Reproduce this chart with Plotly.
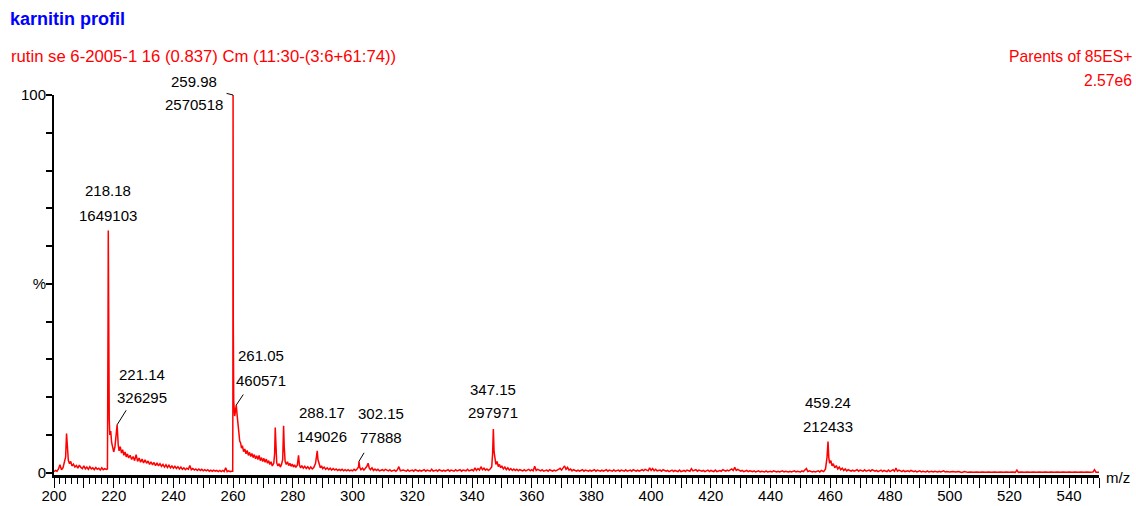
import plotly.graph_objects as go

# ---------------- data (relative intensity, % of base peak) ----------------
mz_a = [200.0, 200.5, 201.0, 201.5, 202.0, 202.5, 203.0, 203.5, 203.9, 204.2, 204.5, 204.8,
        205.2, 205.6, 206.0, 206.5, 207.0, 207.5, 208.0, 208.5, 209.0, 209.5, 210.0, 210.5,
        211.0, 211.5, 212.0, 212.5, 213.0, 213.5, 214.0, 214.5, 215.0, 215.5, 216.0, 216.5,
        217.0, 217.5, 217.9]
pct_a = [0.3, 0.6, 0.4, 1.0, 2.1, 0.8, 1.3, 2.9, 4.2, 10.4, 5.1, 3.3,
         2.4, 3.0, 1.8, 2.3, 1.5, 1.9, 1.2, 2.0, 1.4, 1.1, 1.8, 1.0,
         1.5, 0.9, 1.6, 1.0, 1.3, 0.8, 1.4, 0.9, 1.2, 0.7, 1.3, 0.8,
         1.1, 0.9, 1.0]

mz_b = [218.0, 218.1, 218.18, 218.3, 218.5, 218.7, 219.0, 219.3, 219.6, 220.0, 220.4, 220.8,
        221.14, 221.5, 221.8, 222.2, 222.6, 223.0, 223.4, 223.8, 224.2, 224.6, 225.0, 225.5,
        226.0, 226.5, 227.0, 227.5, 228.0, 228.5, 229.0, 229.5, 230.0, 230.5, 231.0, 231.5,
        232.0, 232.5, 233.0, 233.5, 234.0, 234.5, 235.0, 235.5, 236.0, 236.5, 237.0, 237.5,
        238.0, 238.5, 239.0, 239.5, 240.0, 240.5, 241.0, 241.5, 242.0, 242.5, 243.0, 243.5,
        244.0, 244.5, 245.0, 245.5, 246.0, 246.5, 247.0, 247.5, 248.0, 248.5, 249.0, 249.5,
        250.0, 250.5, 251.0, 251.5, 252.0, 252.5, 253.0, 253.5, 254.0, 254.5, 255.0, 255.5,
        256.0, 256.5, 257.0, 257.5, 258.0, 258.5, 259.0, 259.5, 259.85]
pct_b = [12.0, 40.0, 64.15, 30.0, 14.0, 10.0, 11.0, 8.0, 6.5, 5.5, 6.8, 9.5,
         12.69, 7.5, 5.8, 6.9, 5.2, 6.1, 4.6, 5.5, 4.2, 5.0, 3.9, 4.6,
         3.5, 4.3, 3.2, 4.8, 3.0, 3.9, 2.8, 3.6, 2.6, 3.4, 2.5, 3.1,
         2.2, 2.9, 2.1, 2.7, 1.9, 2.6, 1.8, 2.4, 1.7, 2.2, 1.5, 2.1,
         1.4, 2.0, 1.3, 1.8, 1.2, 1.7, 1.1, 1.6, 1.0, 1.5, 0.9, 1.3,
         0.8, 1.2, 0.9, 1.9, 0.8, 1.1, 0.7, 1.0, 0.6, 1.0, 0.6, 0.9,
         0.5, 0.8, 0.5, 0.8, 0.4, 0.7, 0.4, 0.7, 0.4, 0.6, 0.3, 0.6,
         0.3, 0.6, 0.3, 1.3, 0.3, 0.5, 0.3, 0.4, 0.4]

mz_c = [259.92, 259.98, 260.05, 260.2, 260.5, 260.8, 261.05, 261.3, 261.6, 261.9, 262.2, 262.5,
        262.8, 263.1, 263.5, 263.9, 264.3, 264.7, 265.1, 265.5, 265.9, 266.3, 266.7, 267.1,
        267.5, 267.9, 268.3, 268.7, 269.1, 269.5, 269.9, 270.3, 270.7, 271.1, 271.5, 271.9,
        272.3, 272.7, 273.1, 273.6, 273.9, 274.1, 274.3, 274.6, 275.0, 275.4, 275.8, 276.2,
        276.6, 276.9, 277.1, 277.4, 277.8, 278.2, 278.6, 279.0, 279.4, 279.8, 280.2, 280.6,
        281.0, 281.5, 281.9, 282.2, 282.6, 283.0, 283.5, 284.0, 284.5, 285.0, 285.5, 286.0,
        286.5, 287.0, 287.6, 288.0, 288.17, 288.4, 288.8, 289.2, 289.6, 290.0, 290.5, 291.0,
        291.5, 292.0, 292.5, 293.0, 293.5, 294.0, 294.5, 295.0, 295.5, 296.0, 296.5, 297.0,
        297.5, 298.0, 298.5, 299.0, 299.5]
pct_c = [20.0, 100.0, 40.0, 19.0, 15.0, 16.5, 17.92, 15.5, 13.2, 10.5, 8.4, 7.9,
         6.5, 7.2, 5.6, 6.3, 5.0, 5.9, 4.6, 5.4, 4.3, 5.1, 4.0, 4.8,
         3.7, 4.5, 3.5, 4.6, 3.2, 4.0, 3.0, 3.8, 2.8, 3.6, 2.5, 3.2,
         2.2, 2.9, 1.8, 2.5, 5.0, 12.0, 5.5, 2.6, 1.8, 2.4, 1.5, 2.2,
         3.5, 12.4, 7.0, 3.0, 2.2, 2.9, 1.9, 2.5, 1.7, 2.3, 1.5, 2.1,
         1.4, 2.0, 4.6, 2.0, 1.3, 1.9, 1.2, 1.7, 1.1, 1.6, 1.0, 1.5,
         1.0, 1.4, 2.5, 4.5, 5.80, 3.5, 2.2, 1.3, 1.8, 1.1, 1.5, 0.9,
         1.3, 0.8, 1.2, 0.7, 1.1, 0.7, 1.0, 0.6, 0.9, 0.6, 0.9, 0.5,
         0.8, 0.5, 0.8, 0.5, 0.7]

mz_d = [300.0, 300.5, 301.0, 301.5, 302.0, 302.15, 302.4, 302.8, 303.3, 303.8, 304.3, 304.8,
        305.2, 305.6, 306.0, 306.5, 307.0, 307.5, 308.0, 308.5, 309.0, 310.0, 310.5, 311.0,
        312.0, 312.5, 313.0, 314.0, 314.5, 315.0, 315.5, 316.0, 317.0, 318.0, 318.5, 319.0,
        320.0, 320.5, 321.0, 322.0, 322.5, 323.0, 324.0, 324.5, 325.0, 326.0, 326.5, 327.0,
        328.0, 328.5, 329.0, 330.0, 330.5, 331.0, 332.0, 332.5, 333.0, 334.0, 334.5, 335.0,
        336.0, 336.5, 337.0, 338.0, 338.5, 339.0, 340.0, 340.5, 341.0, 341.5, 342.0, 342.5,
        343.0, 343.5, 344.0, 344.5, 345.0, 345.5, 346.0, 346.6, 346.9, 347.15, 347.4, 347.7,
        348.0, 348.4, 348.8, 349.2, 349.6, 350.0, 350.5, 351.0, 351.5, 352.0, 352.5, 353.0,
        353.5, 354.0, 354.5, 355.0, 355.5, 356.0, 357.0, 357.5, 358.0, 359.0, 359.5, 360.0,
        360.5, 361.0, 361.5, 362.0, 363.0, 363.5, 364.0, 365.0, 365.5, 366.0, 367.0, 367.5,
        368.0, 369.0, 369.5, 370.0, 370.5, 371.0, 371.5, 372.0, 372.5, 373.0, 373.5, 374.0,
        375.0, 375.5, 376.0, 377.0, 377.5, 378.0, 379.0, 379.5, 380.0, 381.0, 381.5, 382.0,
        383.0, 383.5, 384.0, 385.0, 385.5, 386.0, 387.0, 387.5, 388.0, 389.0, 389.5, 390.0,
        391.0, 391.5, 392.0, 393.0, 393.5, 394.0, 395.0, 395.5, 396.0, 397.0, 397.5, 398.0,
        399.0, 399.5]
pct_d = [0.5, 0.9, 0.6, 1.0, 1.5, 3.03, 1.4, 0.8, 1.2, 0.7, 1.1, 1.7,
         2.5, 1.2, 0.8, 1.3, 0.6, 1.0, 0.6, 0.9, 0.5, 0.8, 0.5, 0.9,
         0.5, 0.8, 0.4, 0.7, 0.4, 0.8, 1.6, 0.5, 0.7, 0.4, 0.8, 0.4,
         0.7, 0.4, 0.8, 0.4, 0.7, 0.4, 0.8, 0.4, 0.7, 0.4, 0.9, 0.4,
         0.7, 0.4, 0.8, 0.4, 0.7, 0.4, 0.8, 0.4, 0.7, 0.4, 0.8, 0.5,
         0.8, 0.4, 0.7, 0.5, 0.9, 0.5, 0.8, 0.5, 1.3, 0.6, 1.1, 0.7,
         1.6, 0.8, 1.2, 0.7, 1.0, 0.6, 0.9, 1.5, 5.0, 11.59, 5.5, 3.2,
         2.2, 3.0, 1.6, 2.2, 1.3, 1.8, 1.0, 1.5, 0.8, 1.3, 0.7, 1.1,
         0.6, 1.0, 0.6, 0.9, 0.5, 0.8, 0.5, 0.8, 0.5, 0.9, 0.5, 0.8,
         0.5, 1.7, 0.6, 0.9, 0.5, 0.8, 0.4, 0.7, 0.4, 0.8, 0.4, 0.7,
         0.5, 0.9, 1.2, 0.7, 1.3, 1.8, 0.9, 1.4, 0.7, 1.0, 0.5, 0.8,
         0.4, 0.7, 0.4, 0.8, 0.4, 0.7, 0.4, 0.7, 0.4, 0.8, 0.4, 0.7,
         0.4, 0.7, 0.4, 0.8, 0.4, 0.7, 0.4, 0.8, 0.4, 0.7, 0.4, 0.7,
         0.4, 0.8, 0.4, 0.7, 0.4, 0.8, 0.4, 0.7, 0.4, 0.8, 0.5, 0.9,
         0.5, 1.3]

mz_e = [400.0, 400.5, 401.0, 401.5, 402.0, 403.0, 403.5, 404.0, 405.0, 405.5, 406.0, 407.0,
        407.5, 408.0, 409.0, 409.5, 410.0, 411.0, 411.5, 412.0, 413.0, 413.5, 414.0, 415.0,
        415.5, 416.0, 417.0, 417.5, 418.0, 419.0, 419.5, 420.0, 421.0, 421.5, 422.0, 423.0,
        423.5, 424.0, 425.0, 425.5, 426.0, 427.0, 427.5, 428.0, 428.5, 429.0, 430.0, 430.5,
        431.0, 432.0, 432.5, 433.0, 434.0, 434.5, 435.0, 436.0, 436.5, 437.0, 438.0, 438.5,
        439.0, 440.0, 440.5, 441.0, 442.0, 442.5, 443.0, 444.0, 444.5, 445.0, 446.0, 446.5,
        447.0, 448.0, 448.5, 449.0, 450.0, 450.5, 451.0, 452.0, 452.5, 453.0, 454.0, 454.5,
        455.0, 456.0, 456.5, 457.0, 457.8, 458.4, 458.9, 459.24, 459.5, 459.8, 460.2, 460.6,
        461.0, 461.5, 462.0, 462.5, 463.0, 463.5, 464.0, 464.5, 465.0, 465.5, 466.0, 467.0,
        467.5, 468.0, 469.0, 469.5, 470.0, 471.0, 471.5, 472.0, 473.0, 473.5, 474.0, 475.0,
        475.5, 476.0, 477.0, 477.5, 478.0, 479.0, 479.5, 480.0, 481.0, 481.5, 482.0, 482.5,
        483.0, 484.0, 484.5, 485.0, 486.0, 486.5, 487.0, 488.0, 488.5, 489.0, 490.0, 490.5,
        491.0, 492.0, 492.5, 493.0, 494.0, 494.5, 495.0, 496.0, 496.5, 497.0, 498.0, 498.5,
        499.0]
pct_e = [0.6, 1.1, 0.5, 0.9, 0.5, 0.7, 0.4, 0.8, 0.4, 0.6, 0.3, 0.7,
         0.3, 0.6, 0.3, 0.7, 0.3, 0.6, 0.3, 0.7, 0.4, 1.1, 0.5, 0.8,
         0.4, 0.7, 0.4, 0.6, 0.3, 0.7, 0.3, 0.6, 0.3, 0.7, 0.3, 0.6,
         0.4, 0.8, 0.4, 0.7, 0.5, 1.0, 0.6, 1.4, 0.6, 0.9, 0.4, 0.6,
         0.3, 0.6, 0.3, 0.5, 0.3, 0.5, 0.2, 0.5, 0.2, 0.4, 0.2, 0.5,
         0.2, 0.4, 0.2, 0.5, 0.2, 0.4, 0.2, 0.5, 0.2, 0.4, 0.2, 0.4,
         0.2, 0.5, 0.2, 0.4, 0.2, 0.5, 0.3, 1.1, 0.3, 0.5, 0.2, 0.4,
         0.2, 0.5, 0.2, 0.6, 0.3, 1.0, 4.0, 8.26, 4.0, 2.5, 3.2, 1.8,
         2.4, 1.3, 1.9, 1.0, 1.5, 0.8, 1.2, 0.6, 1.0, 0.5, 0.8, 0.4,
         0.7, 0.4, 0.8, 0.4, 0.7, 0.4, 0.8, 0.4, 0.7, 0.4, 0.8, 0.4,
         0.6, 0.3, 0.7, 0.3, 0.6, 0.3, 0.7, 0.3, 0.8, 0.4, 1.2, 0.4,
         0.7, 0.3, 0.6, 0.3, 0.5, 0.3, 0.6, 0.3, 0.5, 0.2, 0.5, 0.2,
         0.4, 0.2, 0.5, 0.2, 0.4, 0.2, 0.4, 0.2, 0.4, 0.2, 0.5, 0.2,
         0.3]

mz_f = [500.0, 501.0, 502.0, 503.0, 504.0, 505.0, 506.0, 507.0, 508.0, 509.0, 510.0, 511.0,
        512.0, 513.0, 514.0, 515.0, 516.0, 517.0, 518.0, 519.0, 520.0, 521.0, 522.0, 522.5,
        523.0, 524.0, 525.0, 526.0, 527.0, 528.0, 529.0, 530.0, 531.0, 532.0, 533.0, 534.0,
        535.0, 536.0, 537.0, 538.0, 539.0, 540.0, 541.0, 542.0, 543.0, 544.0, 545.0, 546.0,
        547.0, 548.0, 548.5, 549.0, 550.0]
pct_f = [0.2, 0.3, 0.2, 0.3, 0.1, 0.3, 0.1, 0.2, 0.1, 0.2, 0.1, 0.2,
         0.1, 0.2, 0.1, 0.2, 0.1, 0.2, 0.1, 0.2, 0.1, 0.2, 0.1, 0.7,
         0.1, 0.2, 0.1, 0.2, 0.1, 0.2, 0.1, 0.2, 0.1, 0.2, 0.1, 0.2,
         0.1, 0.2, 0.1, 0.2, 0.1, 0.2, 0.1, 0.2, 0.1, 0.2, 0.1, 0.2,
         0.1, 0.2, 0.8, 0.1, 0.1]

# labelled peaks
peak_mz = [218.18, 259.98, 221.14, 261.05, 288.17, 302.15, 347.15, 459.24]
peak_counts = [1649103, 2570518, 326295, 460571, 149026, 77888, 297971, 212433]
base_peak = 2570518

x_tick_vals = [200, 210, 220, 230, 240, 250, 260, 270, 280, 290, 300, 310, 320, 330, 340, 350,
               360, 370, 380, 390, 400, 410, 420, 430, 440, 450, 460, 470, 480, 490, 500, 510,
               520, 530, 540, 550]
x_tick_text = ["200", "", "220", "", "240", "", "260", "", "280", "", "300", "", "320", "", "340", "",
               "360", "", "380", "", "400", "", "420", "", "440", "", "460", "", "480", "", "500", "",
               "520", "", "540", ""]
y_tick_vals = [0, 10, 20, 30, 40, 50, 60, 70, 80, 90, 100]
y_tick_text = ["0", "", "", "", "", "%", "", "", "", "", "100"]

title_text = "karnitin profil"
subtitle_text = "rutin se 6-2005-1 16 (0.837) Cm (11:30-(3:6+61:74))"
scan_text = "Parents of 85ES+"
scale_text = "2.57e6"

# ---------------- layout / style ----------------
W, H = 1136, 506
# plot area in page pixels: x 54..1099, y 95..475
ML, MR, MT, MB = 54, W - 1099, 95, H - 475
PW, PH = W - ML - MR, H - MT - MB
FONT = "Liberation Sans, Arial, sans-serif"
RED = "#ff0000"


def px_x(px):
    """page pixel x -> paper x"""
    return (px - ML) / PW


def px_y(py):
    """page pixel y -> paper y"""
    return (H - MB - py) / PH


# label placement (pixel offsets from peak top): dx, dy of line 1, dy of line 2, leader tail (or None)
label_style = [
    (0, -40, -15, None),
    (-39, -14, 9, (-8, -2)),
    (25, -50, -27, (10, -16)),
    (25, -50, -25, (8, -12)),
    (5, -38, -14, None),
    (22, -48, -24, (6, -10)),
    (0, -39, -16, None),
    (0, -39, -15, None),
]

mz = mz_a + mz_b + mz_c + mz_d + mz_e + mz_f
pct = pct_a + pct_b + pct_c + pct_d + pct_e + pct_f

fig = go.Figure()
fig.add_trace(go.Scatter(x=mz, y=pct, mode="lines",
                         line=dict(color=RED, width=1.5),
                         cliponaxis=False, hoverinfo="skip", showlegend=False))

annotations = []
for m, c, (dx, dy1, dy2, lead) in zip(peak_mz, peak_counts, label_style):
    p = c / base_peak * 100
    for txt, dy in ((f"{m:.2f}", dy1), (str(c), dy2)):
        annotations.append(dict(x=m, y=p, xref="x", yref="y", text=txt, showarrow=False,
                                xanchor="center", yanchor="middle", xshift=dx, yshift=-dy,
                                font=dict(family=FONT, size=15, color="black")))
    if lead is not None:
        annotations.append(dict(x=m, y=p, xref="x", yref="y", text="", showarrow=True,
                                arrowhead=0, arrowwidth=1, arrowcolor="black",
                                ax=lead[0], ay=lead[1], axref="pixel", ayref="pixel"))

annotations += [
    dict(x=px_x(8), y=px_y(19), xref="paper", yref="paper", text=f"<b>{title_text}</b>",
         showarrow=False, xanchor="left", yanchor="middle",
         font=dict(family=FONT, size=18, color="#0000ff")),
    dict(x=px_x(9), y=px_y(57), xref="paper", yref="paper", text=subtitle_text,
         showarrow=False, xanchor="left", yanchor="middle",
         font=dict(family=FONT, size=16.7, color=RED)),
    dict(x=px_x(1134), y=px_y(57), xref="paper", yref="paper", text=scan_text,
         showarrow=False, xanchor="right", yanchor="middle",
         font=dict(family=FONT, size=15.7, color=RED)),
    dict(x=px_x(1134), y=px_y(80), xref="paper", yref="paper", text=scale_text,
         showarrow=False, xanchor="right", yanchor="middle",
         font=dict(family=FONT, size=15.7, color=RED)),
    dict(x=px_x(1104), y=px_y(478), xref="paper", yref="paper", text="m/z",
         showarrow=False, xanchor="left", yanchor="middle",
         font=dict(family=FONT, size=15, color="black")),
]

fig.update_layout(
    width=W, height=H,
    margin=dict(l=ML, r=MR, t=MT, b=MB, pad=0),
    paper_bgcolor="white", plot_bgcolor="white",
    showlegend=False,
    annotations=annotations,
    xaxis=dict(range=[200, 550], showgrid=False, zeroline=False, automargin=False,
               showline=True, linecolor="black", linewidth=2.5,
               tickmode="array", tickvals=x_tick_vals, ticktext=x_tick_text,
               ticks="outside", ticklen=10, tickwidth=1.2, tickcolor="black",
               ticklabelstandoff=-5,
               tickfont=dict(family=FONT, size=15, color="black"),
               minor=dict(dtick=2, tick0=200, ticks="outside", ticklen=6,
                          tickwidth=1.2, tickcolor="black", showgrid=False)),
    yaxis=dict(range=[-0.6, 100], showgrid=False, zeroline=False, automargin=False,
               showline=True, linecolor="black", linewidth=2,
               tickmode="array", tickvals=y_tick_vals, ticktext=y_tick_text,
               ticks="outside", ticklen=6, tickwidth=1.5, tickcolor="black",
               ticklabelstandoff=-3,
               tickfont=dict(family=FONT, size=15, color="black")),
)

# remove the default 8 px page margin so the figure fills the window exactly
fig.write_html("out.html",
               config={"displayModeBar": False},
               post_script="document.body.style.margin='0';document.body.style.overflow='hidden';")
